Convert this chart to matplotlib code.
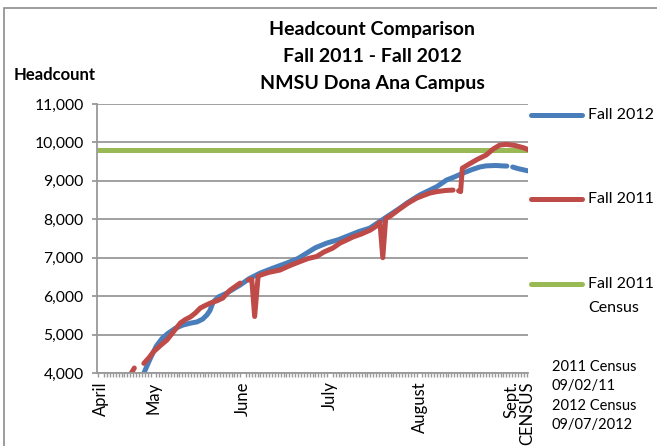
import matplotlib
matplotlib.use("Agg")
import matplotlib.pyplot as plt
from matplotlib.lines import Line2D
from matplotlib.patches import Rectangle
from matplotlib.ticker import MultipleLocator, FuncFormatter
import numpy as np

nan = np.nan

# x = days counted from April 1
days_2012 = [25.9, 27, 29, 31, 33, 35, 37.5, 40.3, 43, 45.1, 47, 48.5, 49.5, 50.7,
             52.5, 55.4, 58, 60, 63, 66.9, 71, 76.1, 80, 83, 86, 89.9, 94, 98, 101,
             104.8, 108, 110, 113, 115.2, 118, 122, 125, 128, 131.3, 134, 137, 140,
             142.8, 145, 148.5, 150.5, 152.2, 153.2, 154.2, 156, 159.5]
fall_2012 = [3820, 4050, 4390, 4700, 4900, 5030, 5160, 5250, 5300, 5330, 5400, 5510,
             5620, 5850, 5980, 6080, 6200, 6290, 6450, 6600, 6720, 6860, 6980, 7120,
             7260, 7380, 7470, 7590, 7680, 7770, 7930, 8030, 8180, 8290, 8440, 8630,
             8740, 8850, 9020, 9100, 9200, 9290, 9360, 9390, 9400, 9390, 9385, nan,
             9360, 9320, 9260]

days_2011 = [22, 23.4, 24, 26.7, 28.5, 30, 32.5, 34.7, 37, 39.3, 41, 42.8, 44.5, 46.2,
             48, 49.7, 52, 54, 55.5, 56.6, 58.5, 60, 61.2, 62.8, 64.0, 65.0, 66.2,
             67.5, 70, 73.8, 77, 80.7, 83.5, 86.4, 89, 92, 94.5, 96.8, 99, 102, 105,
             107, 108.3, 109.3, 110.3, 112, 115, 118, 121, 123, 125.5, 128, 131,
             133.6, 134.3, 135.5, 136.2, 136.8, 139, 142, 145, 147.5, 149.7, 152,
             155, 158, 160]
fall_2011 = [3950, 4130, nan, 4250, 4400, 4550, 4720, 4860, 5080, 5300, 5390, 5460,
             5560, 5690, 5760, 5820, 5880, 5950, 6080, 6160, 6260, 6340, nan, 6420,
             6440, 5470, 6520, 6560, 6620, 6680, 6790, 6900, 6980, 7030, 7150, 7250,
             7380, 7460, 7540, 7620, 7720, 7820, 7930, 7000, 8020, 8090, 8260, 8420,
             8550, 8610, 8680, 8720, 8750, 8760, nan, 8740, 8720, 9330, 9430, 9560,
             9670, 9830, 9930, 9950, 9920, 9860, 9800]

census_days = [10.5, 159.5]
census_2011 = [9800, 9800]

month_days = [12, 30, 61, 91, 122, 156.5]
month_labels = ["April", "May", "June", "July", "August", "Sept.\nCENSUS"]

title_lines = ["Headcount Comparison", "Fall 2011 - Fall 2012", "NMSU Dona Ana Campus"]
census_note = ["2011 Census", "09/02/11", "2012 Census", "09/07/2012"]

blue = "#4a7ebb"
red = "#be4b48"
green = "#98b954"
grid = "#999999"

plt.rcParams["font.family"] = ["Lato", "DejaVu Sans"]

W, H = 657, 446
fig = plt.figure(figsize=(W / 100, H / 100), dpi=100)
ax = fig.add_axes([97 / W, 1 - 373 / H, (528 - 97) / W, (373 - 104) / H])

ax.plot(census_days, census_2011, color=green, lw=3.6, solid_capstyle="butt")
ax.plot(days_2012, fall_2012, color=blue, lw=3.6, solid_capstyle="round")
ax.plot(days_2011, fall_2011, color=red, lw=3.6, solid_capstyle="round")

ax.set_xlim(10.5, 159.5)
ax.set_ylim(4000, 11000)
ax.set_yticks(range(4000, 11001, 1000))
ax.yaxis.set_major_formatter(FuncFormatter(lambda v, p: f"{int(v):,}"))
ax.grid(axis="y", color=grid, lw=1.3)
ax.set_axisbelow(True)

ax.set_xticks(month_days)
ax.set_xticklabels(month_labels, rotation=90, va="top", ha="center",
                   multialignment="right", fontsize=12, linespacing=0.95)
ax.xaxis.set_minor_locator(MultipleLocator(1))
ax.tick_params(axis="x", which="major", length=0, pad=6)
ax.tick_params(axis="x", which="minor", length=3, color=grid, width=1)
ax.tick_params(axis="y", length=3.6, color=grid, width=1.3, labelsize=11.3, pad=6)

for s in ["top", "right"]:
    ax.spines[s].set_visible(False)
for s in ["left", "bottom"]:
    ax.spines[s].set_color(grid)
    ax.spines[s].set_linewidth(1.3)

for i, line in enumerate(title_lines):
    fig.text(372 / W, 1 - (30 + 27 * i) / H, line, ha="center", va="center",
             fontsize=14, fontweight="bold")
fig.text(14 / W, 1 - 75 / H, "Headcount", ha="left", va="center",
         fontsize=12, fontweight="bold")

# legend drawn by hand to match the spacing
legend = [(["Fall 2012"], blue, 115), (["Fall 2011"], red, 199),
          (["Fall 2011", "Census"], green, 284)]
for labels, col, ypx in legend:
    y = 1 - ypx / H
    fig.add_artist(Line2D([531 / W, 582 / W], [y, y], color=col, lw=3.6,
                          solid_capstyle="round", transform=fig.transFigure))
    for j, lab in enumerate(labels):
        fig.text(588 / W, 1 - (ypx + 23.5 * j) / H, lab, ha="left", va="center",
                 fontsize=11.5)

for i, line in enumerate(census_note):
    fig.text(552 / W, 1 - (367 + 19.3 * i) / H, line, ha="left", va="center",
             fontsize=10.5)

fig.add_artist(Rectangle((4 / W, -0.05), 1.0, 1 - 7.5 / H + 0.05, fill=False,
                         edgecolor="#8c8c8c", lw=1.2, transform=fig.transFigure))

fig.savefig("out.png", dpi=100)
